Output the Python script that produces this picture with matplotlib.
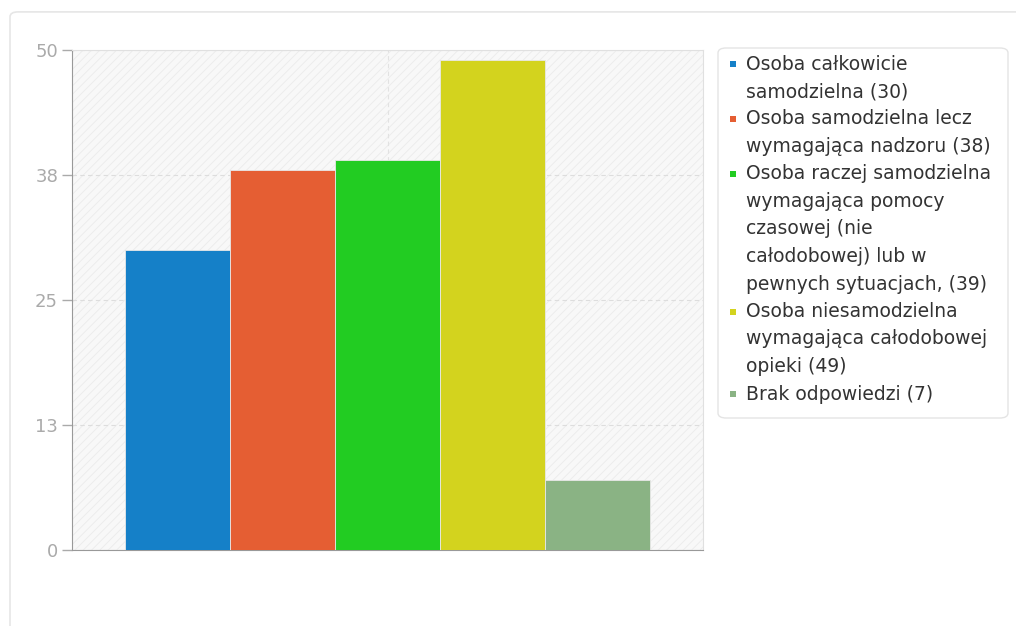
import matplotlib.pyplot as plt
from matplotlib.patches import FancyBboxPatch, Rectangle

# Data
categories = ["Osoba całkowicie samodzielna",
              "Osoba samodzielna lecz wymagająca nadzoru",
              "Osoba raczej samodzielna wymagająca pomocy czasowej (nie całodobowej) lub w pewnych sytuacjach,",
              "Osoba niesamodzielna wymagająca całodobowej opieki",
              "Brak odpowiedzi"]
values = [30, 38, 39, 49, 7]
legend_lines = [["Osoba całkowicie", "samodzielna (30)"],
                ["Osoba samodzielna lecz", "wymagająca nadzoru (38)"],
                ["Osoba raczej samodzielna", "wymagająca pomocy", "czasowej (nie",
                 "całodobowej) lub w", "pewnych sytuacjach, (39)"],
                ["Osoba niesamodzielna", "wymagająca całodobowej", "opieki (49)"],
                ["Brak odpowiedzi (7)"]]
colors = ['#1580c8', '#e55e33', '#22cc22', '#d3d31e', '#8ab384']
yticks = [0, 12.5, 25, 37.5, 50]
ytick_labels = ['0', '13', '25', '38', '50']

plt.rcParams['hatch.color'] = '#ebebeb'
plt.rcParams['hatch.linewidth'] = 0.6

fig = plt.figure(figsize=(10.16, 6.26), dpi=100)

# outer card
card = FancyBboxPatch((10 / 1016, -0.05), 1.0, 1.031, boxstyle="round,pad=0,rounding_size=0.008",
                      transform=fig.transFigure, facecolor='white', edgecolor='#e6e6e6',
                      linewidth=1.2, zorder=-5)
fig.patches.append(card)

ax = fig.add_axes([72 / 1016, 76 / 626, 631 / 1016, 500 / 626])
ax.set_facecolor('#f8f8f8')
ax.patch.set_hatch('////')
ax.patch.set_edgecolor('#ebebeb')

x = list(range(len(values)))
ax.bar(x, values, width=1.0, color=colors, edgecolor='#e8e8e8', linewidth=0.6, zorder=3)

ax.set_xlim(-1.01, 5.01)
ax.set_ylim(0, 50)
ax.set_yticks(yticks)
ax.set_yticklabels(ytick_labels)
ax.set_xticks([])
ax.tick_params(axis='y', colors='#aaaaaa', labelsize=13, length=7, width=1, pad=3)

ax.grid(axis='y', color='#dddddd', linestyle=(0, (4, 3)), linewidth=0.8, zorder=1)
ax.axvline(2.0, color='#e2e2e2', linestyle=(0, (4, 3)), linewidth=0.8, zorder=1)

for side in ['top', 'right']:
    ax.spines[side].set_color('#e0e0e0')
ax.spines['left'].set_color('#999999')
ax.spines['bottom'].set_color('#999999')

# legend box
leg_box = FancyBboxPatch((718 / 1016, 208 / 626), 290 / 1016, 370 / 626,
                         boxstyle="round,pad=0,rounding_size=0.008",
                         transform=fig.transFigure, facecolor='white',
                         edgecolor='#e4e4e4', linewidth=1.0)
fig.patches.append(leg_box)

line_h = 27.5
y = 64
for color, lines in zip(colors, legend_lines):
    fig.patches.append(Rectangle(((730) / 1016, (626 - y - 3) / 626), 6 / 1016, 6 / 626,
                                 transform=fig.transFigure, facecolor=color, edgecolor='none'))
    for ln in lines:
        fig.text(746 / 1016, (626 - y) / 626, ln, fontsize=13.5, color='#333333',
                 va='center', ha='left')
        y += line_h

plt.savefig('out.png', dpi=100)
